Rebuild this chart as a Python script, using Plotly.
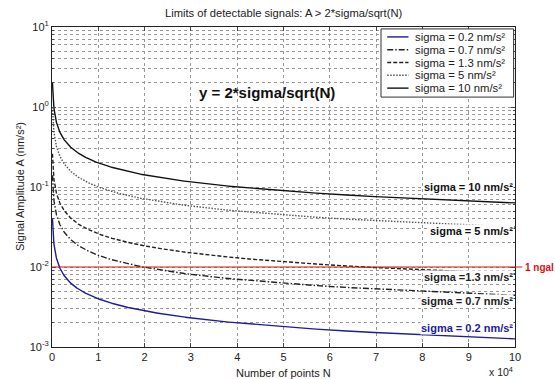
import numpy as np
import plotly.graph_objects as go

# Noise levels (nm/s^2) and their line styles
sigmas = [0.2, 0.7, 1.3, 5, 10]
names = ["sigma = 0.2 nm/s²", "sigma = 0.7 nm/s²", "sigma = 1.3 nm/s²",
         "sigma = 5 nm/s²", "sigma = 10 nm/s²"]
colors = ["#1c1c9c", "#222222", "#222222", "#555555", "#111111"]
dashes = ["solid", "6px,2px,1.5px,2px", "4px,2px", "1.5px,1.5px", "solid"]

# Number of points N
N = np.linspace(100, 100000, 2000)

# 1 ngal threshold (nm/s^2)
ngal = 0.01

x_tickvals = [i * 10000 for i in range(11)]
x_ticktext = [str(i) for i in range(11)]
y_tickvals = [1e-3, 1e-2, 1e-1, 1e0, 1e1]
y_ticktext = ["10<sup>-3</sup>", "10<sup>-2</sup>", "10<sup>-1</sup>",
              "10<sup>0</sup>", "10<sup>1</sup>"]

fig = go.Figure()
for s, nm, c, d in zip(sigmas, names, colors, dashes):
    fig.add_trace(go.Scatter(x=N, y=2 * s / np.sqrt(N), mode="lines", name=nm,
                             line=dict(color=c, dash=d, width=1.4)))

font = "Arial, Liberation Sans, sans-serif"
grid = dict(showgrid=True, gridcolor="#9a9a9a", griddash="dot", gridwidth=1)

fig.update_layout(
    width=555, height=379,
    margin=dict(l=52, r=40, t=27, b=32),
    paper_bgcolor="white", plot_bgcolor="white",
    font=dict(family=font, size=11, color="#222"),
    showlegend=False,
    xaxis=dict(range=[0, 100000], tickvals=x_tickvals, ticktext=x_ticktext,
               ticks="inside", ticklen=4, showline=True, linecolor="#222",
               mirror="ticks", zeroline=False, tickfont=dict(size=11), **grid),
    yaxis=dict(type="log", range=[-3, 1], tickvals=y_tickvals, ticktext=y_ticktext,
               ticks="inside", ticklen=4, showline=True, linecolor="#222",
               mirror="ticks", zeroline=False, tickfont=dict(size=11),
               minor=dict(showgrid=True, gridcolor="#9a9a9a", griddash="dot",
                          ticks="inside", ticklen=2, dtick="D1"),
               **grid),
)

# Threshold line extending just past the plot area
fig.add_shape(type="line", xref="paper", x0=0, x1=1.016, yref="y", y0=ngal, y1=ngal,
              line=dict(color="#e01010", width=1.2))

# Legend box drawn by hand for a compact layout
leg_x0, leg_x1, leg_y0, leg_y1 = 0.7106, 0.997, 0.781, 0.994
fig.add_shape(type="rect", xref="paper", yref="paper", x0=leg_x0, x1=leg_x1,
              y0=leg_y0, y1=leg_y1, line=dict(color="#333", width=1),
              fillcolor="white", layer="above")
ann = []
row_h = 0.04
for i, (nm, c, d) in enumerate(zip(names, colors, dashes)):
    yy = leg_y1 - 0.025 - i * row_h
    fig.add_shape(type="line", xref="paper", yref="paper", x0=0.724, x1=0.77,
                  y0=yy, y1=yy, line=dict(color=c, dash=d, width=1.4), layer="above")
    ann.append(dict(text=nm, xref="paper", yref="paper", x=0.78, y=yy,
                    xanchor="left", yanchor="middle", showarrow=False,
                    font=dict(size=11.3, color="#222")))

ann.append(dict(text="Limits of detectable signals: A > 2*sigma/sqrt(N)", xref="paper",
                yref="paper", x=0.5, y=1, yshift=14, yanchor="middle", showarrow=False,
                font=dict(size=11.2, color="#222")))
ann.append(dict(text="<b>y = 2*sigma/sqrt(N)</b>", xref="paper", yref="paper",
                x=0.465, y=0.794, yanchor="middle", showarrow=False,
                font=dict(size=15, color="#111")))
ann.append(dict(text="Signal Amplitude A (nm/s²)", xref="paper", yref="paper",
                x=0, xshift=-40, y=0.5, textangle=-90, showarrow=False,
                font=dict(size=11)))
ann.append(dict(text="Number of points N", xref="paper", yref="paper",
                x=0.5, y=0, yshift=-18, yanchor="top", showarrow=False,
                font=dict(size=11)))
ann.append(dict(text="x 10<sup>4</sup>", xref="paper", yref="paper",
                x=1, y=0, yshift=-16, yanchor="top", xanchor="right", showarrow=False,
                font=dict(size=10.5)))
ann.append(dict(text="<b>1 ngal</b>", xref="paper", yref="y", x=1.017,
                y=np.log10(ngal), xanchor="left", showarrow=False,
                font=dict(size=10, color="#e01010")))

label_y = [-2.76, -2.43, -2.125, -1.55, -1.0]
label_txt = ["sigma = 0.2 nm/s²", "sigma = 0.7 nm/s²", "sigma =1.3 nm/s²",
             "sigma = 5 nm/s²", "sigma = 10 nm/s²"]
for ly, lt, c in zip(label_y, label_txt, colors):
    ann.append(dict(text=f"<b>{lt}</b>", xref="paper", yref="y", x=0.997, y=ly,
                    xanchor="right", showarrow=False, bgcolor="white",
                    borderpad=0, font=dict(size=11, color=c if c != "#555555" else "#111")))

fig.update_layout(annotations=ann)
fig.write_html("out.html")
